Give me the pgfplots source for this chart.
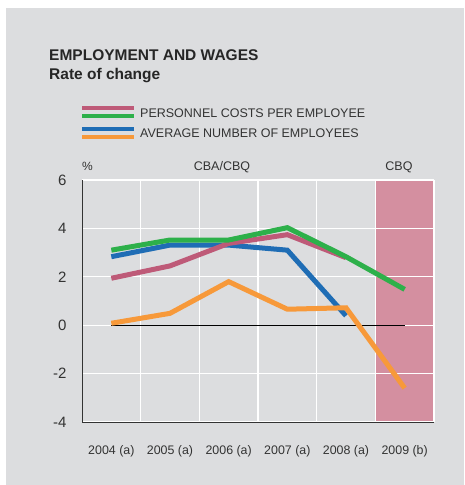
\documentclass[border=0pt]{standalone}
\usepackage{pgfplots}
\pgfplotsset{compat=1.18}
\usepackage{fontspec}
\setmainfont{Liberation Sans}

\definecolor{bgc}{HTML}{DCDDDF}
\definecolor{txt}{HTML}{333333}
\definecolor{pinkc}{HTML}{BE5A78}
\definecolor{greenc}{HTML}{2DB04A}
\definecolor{bluec}{HTML}{1F6DB5}
\definecolor{orangec}{HTML}{F7993A}
\definecolor{pinkfill}{HTML}{D48FA0}

\pgfdeclarelayer{panel}
\pgfplotsset{
    layers/withpanel/.define layer set={
        panel,axis background,axis grid,axis ticks,axis lines,
        axis tick labels,pre main,main,axis descriptions,axis foreground
    }{},
}

\begin{document}
\begin{tikzpicture}[x=1pt,y=1pt]
\begin{axis}[
    set layers=withpanel,
    at={(82pt,63pt)}, anchor=south west,
    scale only axis,
    width=352pt, height=242pt,
    xmin=0, xmax=6, ymin=-4, ymax=6,
    axis x line*=bottom, axis y line*=left,
    axis line style={txt, line width=0.8pt, -},
    xtick={0.5,1.5,2.5,3.5,4.5,5.5},
    xticklabels={2004 (a),2005 (a),2006 (a),2007 (a),2008 (a),2009 (b)},
    minor xtick={1,2,3,4,5,6},
    xminorgrids=true, xmajorgrids=false,
    ytick={-4,-2,0,2,4,6},
    ymajorgrids=true,
    grid style={white, line width=1.2pt},
    minor grid style={white, line width=1.2pt},
    major tick length=0pt, minor tick length=0pt,
    /pgf/number format/assume math mode=true,
    xticklabel style={font=\fontsize{12.4}{14}\selectfont, text=txt, yshift=-20pt},
    yticklabel style={font=\fontsize{15}{17}\selectfont, text=txt, xshift=-12pt},
    clip=false,
]
% CBQ shaded period
\addplot[draw=none, fill=pinkfill, on layer=axis background]
    coordinates {(5,-4) (5,6) (6,6) (6,-4)} -- cycle;
% zero line
\addplot[black, line width=0.6pt] coordinates {(0.5,0) (5.5,0)};
% average number of employees (CBA)
\addplot[bluec, line width=5pt] coordinates {
    (0.5,2.83) (1.5,3.31) (2.5,3.31) (3.5,3.10) (4.5,0.39)};
% personnel costs per employee (CBA)
\addplot[pinkc, line width=5pt] coordinates {
    (0.5,1.94) (1.5,2.45) (2.5,3.38) (3.5,3.74) (4.5,2.79)};
% personnel costs per employee (CBQ)
\addplot[greenc, line width=5pt] coordinates {
    (0.5,3.10) (1.5,3.52) (2.5,3.52) (3.5,4.03) (4.5,2.83) (5.5,1.48)};
% average number of employees (CBQ)
\addplot[orangec, line width=5pt] coordinates {
    (0.5,0.08) (1.5,0.49) (2.5,1.80) (3.5,0.66) (4.5,0.72) (5.5,-2.60)};
\end{axis}

% page and grey panel, behind everything
\begin{pgfonlayer}{panel}
\fill[white] (0,0) rectangle (464,485);
\fill[bgc] (6,0) rectangle (464,477);
\end{pgfonlayer}

% titles
\node[anchor=base west, inner sep=0, text=black!85,
      font=\fontsize{15.5}{18}\selectfont\bfseries] at (49,424) {EMPLOYMENT AND WAGES};
\node[anchor=base west, inner sep=0, text=black!85,
      font=\fontsize{15.5}{18}\selectfont\bfseries] at (49,405) {Rate of change};

% legend
\draw[pinkc, line width=3.7pt] (82,377) -- (134,377);
\draw[greenc, line width=3.7pt] (82,368.7) -- (134,368.7);
\draw[bluec, line width=3.7pt] (82,356) -- (134,356);
\draw[orangec, line width=3.7pt] (82,348) -- (134,348);
\node[anchor=base west, inner sep=0, text=txt, font=\fontsize{12.5}{14}\selectfont]
    at (140,367.7) {PERSONNEL COSTS PER EMPLOYEE};
\node[anchor=base west, inner sep=0, text=txt, font=\fontsize{12.5}{14}\selectfont]
    at (140,347) {AVERAGE NUMBER OF EMPLOYEES};

% labels above the plot
\node[anchor=base west, inner sep=0, text=txt, font=\fontsize{12}{14}\selectfont]
    at (82,314) {\%};
\node[anchor=base, inner sep=0, text=txt, font=\fontsize{12.5}{14}\selectfont]
    at (222,314) {CBA/CBQ};
\node[anchor=base, inner sep=0, text=txt, font=\fontsize{12.5}{14}\selectfont]
    at (399,314) {CBQ};
\end{tikzpicture}
\end{document}
